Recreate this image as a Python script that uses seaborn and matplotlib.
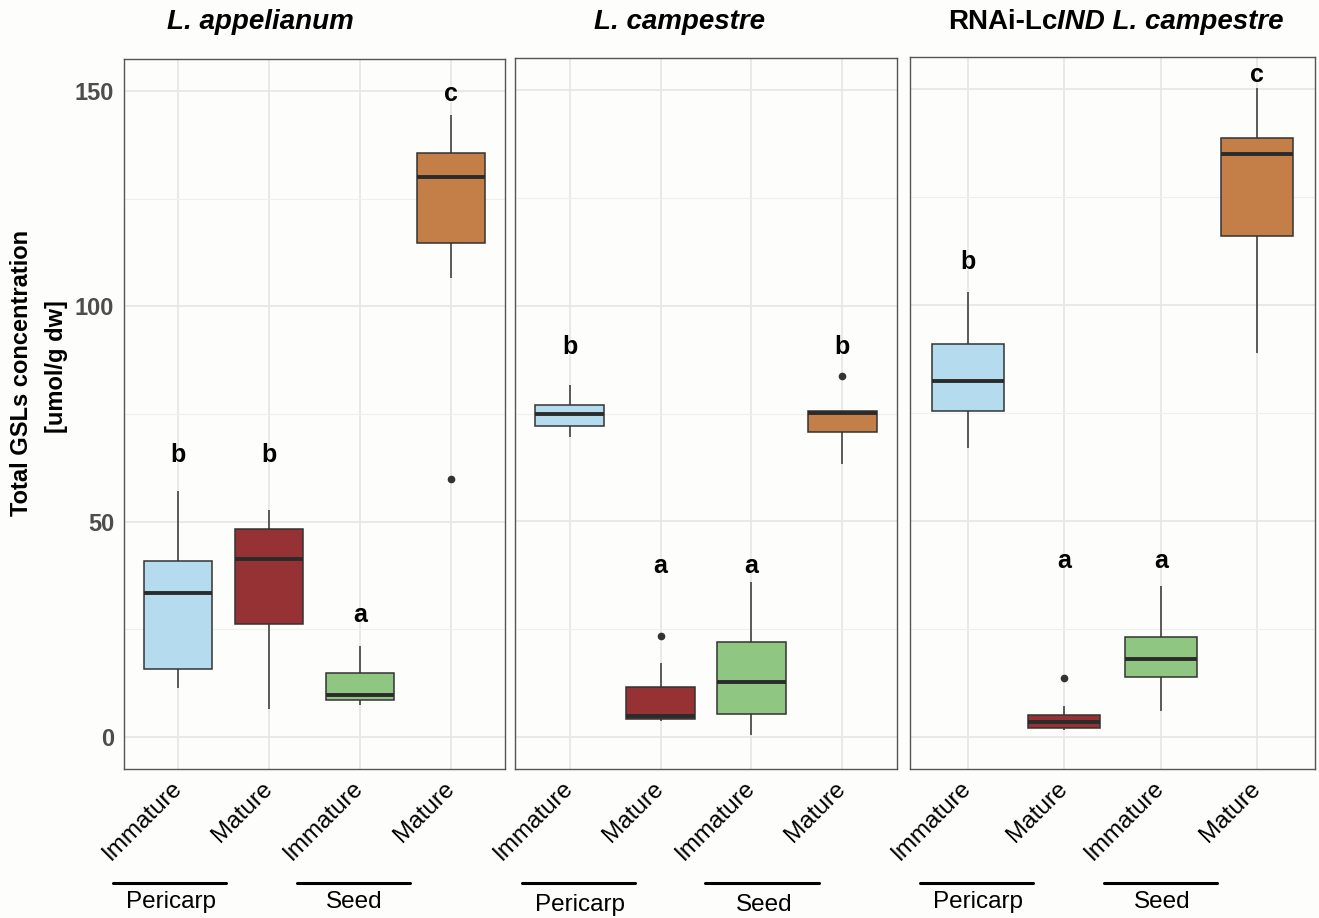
import pandas as pd
import matplotlib
matplotlib.use("Agg")
import matplotlib.pyplot as plt
from matplotlib.ticker import MultipleLocator
from matplotlib.lines import Line2D
import seaborn as sns

app_peri_imm = [11.4, 13.5, 15.8, 24.0, 33.5, 37.5, 40.8, 49.0, 57.1]
app_peri_mat = [6.5, 18.0, 26.2, 35.0, 41.4, 45.0, 48.2, 50.5, 52.7]
app_seed_imm = [7.4, 8.0, 8.6, 9.2, 9.8, 12.0, 14.7, 18.0, 21.1]
app_seed_mat = [60.0, 106.5, 114.8, 122.0, 130.0, 133.0, 135.6, 140.0, 144.6]

camp_peri_imm = [69.5, 70.8, 72.1, 73.5, 74.9, 76.0, 76.9, 79.0, 81.6]
camp_peri_mat = [3.7, 4.0, 4.2, 4.6, 4.9, 8.0, 11.5, 17.0, 23.3]
camp_seed_imm = [0.4, 3.0, 5.3, 9.0, 12.7, 17.0, 22.0, 29.0, 35.8]
camp_seed_mat = [63.3, 68.0, 70.6, 72.5, 75.2, 75.4, 75.6, 75.6, 83.8]

rnai_peri_imm = [66.9, 71.0, 75.4, 79.0, 82.3, 87.0, 91.1, 97.0, 103.1]
rnai_peri_mat = [1.5, 1.7, 1.9, 2.6, 3.4, 4.2, 5.0, 7.0, 13.5]
rnai_seed_imm = [6.0, 10.0, 13.8, 16.0, 17.9, 20.5, 23.2, 29.0, 35.0]
rnai_seed_mat = [88.8, 105.0, 116.0, 126.0, 135.0, 137.0, 138.7, 145.0, 150.3]

groups = ["Pericarp Immature", "Pericarp Mature", "Seed Immature", "Seed Mature"]
tick_labels = ["Immature", "Mature", "Immature", "Mature"]
colors = ["#b5dcee", "#963234", "#8fc682", "#c47e48"]

app_letters = ["b", "b", "a", "c"]
app_letter_y = [65.4, 65.4, 28.3, 149.4]
camp_letters = ["b", "a", "a", "b"]
camp_letter_y = [90.5, 39.7, 39.7, 90.5]
rnai_letters = ["b", "a", "a", "c"]
rnai_letter_y = [109.9, 40.7, 40.7, 153.3]


def long_table(cols):
    rows = []
    for g, vals in zip(groups, cols):
        for v in vals:
            rows.append({"group": g, "value": v})
    return pd.DataFrame(rows)


panels = [
    (long_table([app_peri_imm, app_peri_mat, app_seed_imm, app_seed_mat]), app_letters, app_letter_y),
    (long_table([camp_peri_imm, camp_peri_mat, camp_seed_imm, camp_seed_mat]), camp_letters, camp_letter_y),
    (long_table([rnai_peri_imm, rnai_peri_mat, rnai_seed_imm, rnai_seed_mat]), rnai_letters, rnai_letter_y),
]

sns.set_style("white")
plt.rcParams["font.family"] = ["Liberation Sans", "DejaVu Sans"]
plt.rcParams["text.color"] = "black"

W, H = 1319, 918
bg = "#fdfdfb"
fig = plt.figure(figsize=(W / 100, H / 100), dpi=100, facecolor=bg)


def fx(px):
    return px / W


def fy(py):
    return 1 - py / H


# panel boxes in pixels: left, right, top, bottom
rects = [(124, 505, 59, 769), (515, 897, 58, 769), (910, 1315, 57, 769)]

for i, ((df, letters, letter_y), (l, r, t, b)) in enumerate(zip(panels, rects)):
    ax = fig.add_axes([fx(l), fy(b), fx(r) - fx(l), fy(t) - fy(b)])
    ax.set_facecolor(bg)
    sns.boxplot(
        data=df, x="group", y="value", hue="group", order=groups, hue_order=groups,
        palette=colors, saturation=1, width=0.75, linecolor="#333333", linewidth=1.1,
        showcaps=False, legend=False, ax=ax,
        flierprops=dict(marker="o", markersize=4.5, markerfacecolor="#333333",
                        markeredgecolor="#333333"),
        medianprops=dict(color="#2b2b2b", linewidth=2.8),
    )
    ax.set_xlim(-0.6, 3.6)
    ax.set_ylim(-7.5, 157.5)
    ax.yaxis.set_major_locator(MultipleLocator(50))
    ax.yaxis.set_minor_locator(MultipleLocator(25))
    ax.grid(True, which="major", color="#e6e6e6", linewidth=1.2)
    ax.grid(True, which="minor", axis="y", color="#efefef", linewidth=0.8)
    ax.set_axisbelow(True)
    for s in ax.spines.values():
        s.set_color("#555555")
        s.set_linewidth(1.0)
    ax.tick_params(which="major", direction="out", length=3.5, width=1.0, color="#333333")
    ax.tick_params(which="minor", length=0)
    ax.set_xlabel("")
    ax.set_ylabel("")
    ax.set_xticks(range(4))
    ax.set_xticklabels(tick_labels, rotation=45, ha="right", va="center",
                       rotation_mode="anchor", fontsize=17.5, color="black")
    ax.tick_params(axis="x", pad=8)
    if i == 0:
        ax.set_yticklabels([str(int(v)) for v in ax.get_yticks()],
                           fontsize=17, fontweight="bold", color="#4d4d4d")
    else:
        ax.tick_params(axis="y", labelleft=False)
    for xi, (txt, yv) in enumerate(zip(letters, letter_y)):
        ax.text(xi, yv, txt, ha="center", va="center", fontsize=18,
                fontweight="bold", color="black")

# titles
fig.text(fx(260), fy(22), "L. appelianum", ha="center", va="center",
         fontsize=20, fontweight="bold", fontstyle="italic")
fig.text(fx(680), fy(22), "L. campestre", ha="center", va="center",
         fontsize=20, fontweight="bold", fontstyle="italic")
t1 = fig.text(fx(948), fy(22), "RNAi-Lc", ha="left", va="center",
              fontsize=20, fontweight="bold")
fig.canvas.draw()
bb = t1.get_window_extent()
fig.text(bb.x1 / W, fy(22), "IND L. campestre", ha="left", va="center",
         fontsize=20, fontweight="bold", fontstyle="italic")

# y label
fig.text(fx(22), fy(373), "Total GSLs concentration", rotation=90, ha="center",
         va="center", fontsize=17, fontweight="bold")
fig.text(fx(57), fy(367), "[umol/g dw]", rotation=90, ha="center",
         va="center", fontsize=17, fontweight="bold")

# tissue brackets under the tick labels
brackets = [
    (113, 226, 171, "Pericarp", 902), (297, 410, 354, "Seed", 902),
    (522, 635, 580, "Pericarp", 905), (705, 819, 764, "Seed", 905),
    (920, 1033, 978, "Pericarp", 902), (1104, 1217, 1162, "Seed", 902),
]
for x0, x1, xc, name, yt in brackets:
    fig.add_artist(Line2D([fx(x0), fx(x1)], [fy(883), fy(883)], color="black",
                          linewidth=2.2, transform=fig.transFigure))
    fig.text(fx(xc), fy(yt), name, ha="center", va="center", fontsize=17.5)

fig.savefig("out.png", dpi=100, facecolor=bg)
